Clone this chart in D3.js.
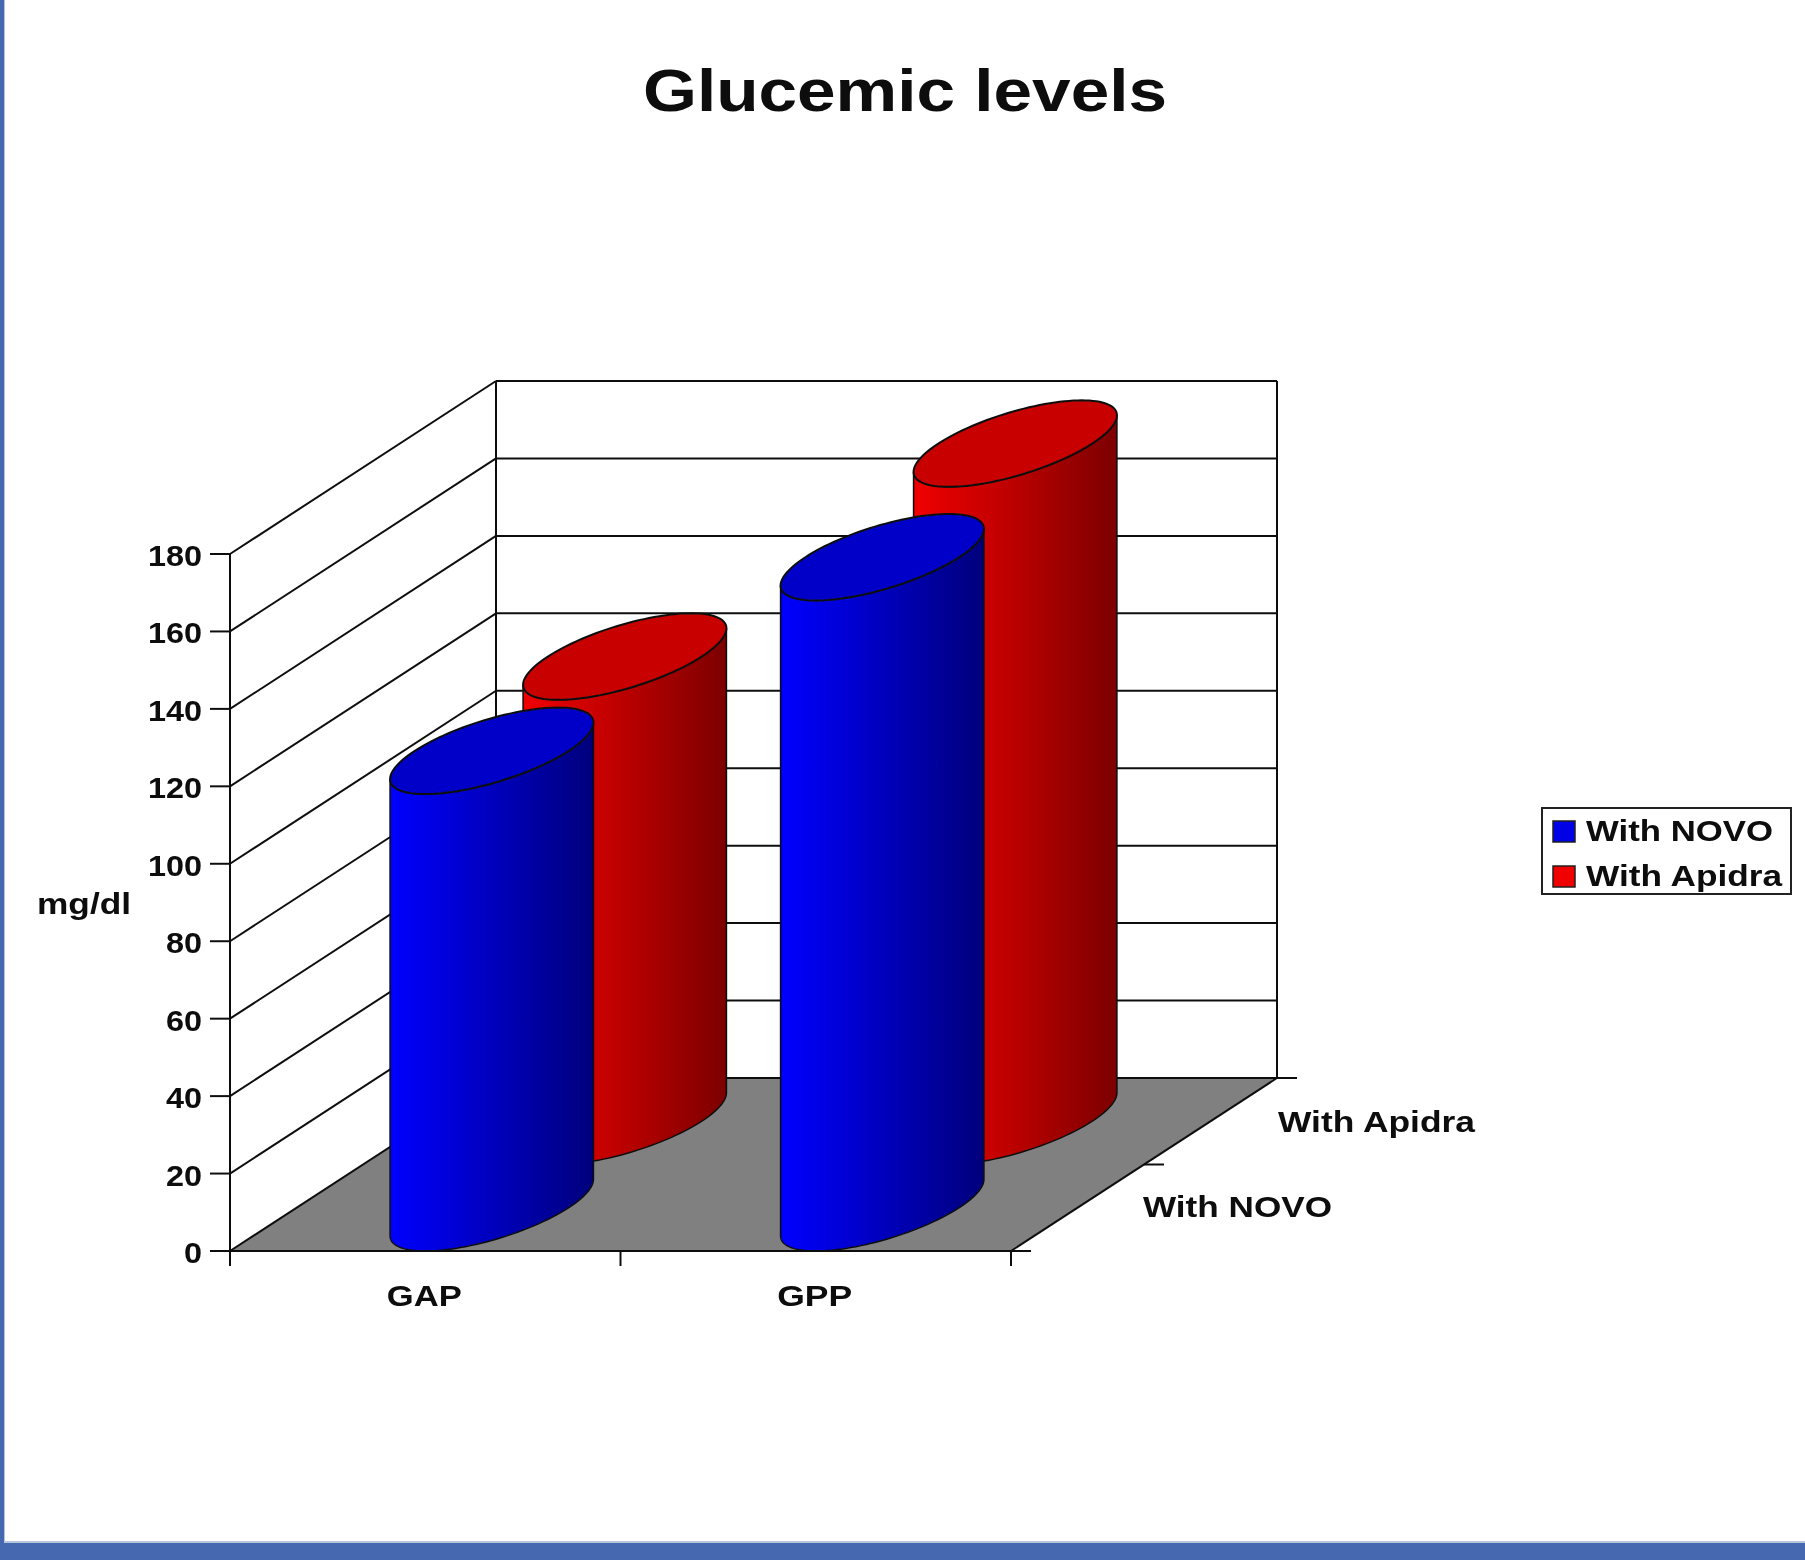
<!DOCTYPE html>
<html>
<head>
<meta charset="utf-8">
<script src="https://cdn.jsdelivr.net/npm/d3@7"></script>
<style>
    html, body { margin: 0; padding: 0; background: #fff; }
    svg { display: block; }
    text { font-family: "Liberation Sans", Arial, sans-serif; font-weight: bold; fill: #0a0a0a; }
</style>
</head>
<body>
<svg id="chart"></svg>
<script>
const categories = ['GAP', 'GPP'];
const seriesNames = ['With NOVO', 'With Apidra'];
const novoValues = [118, 168];
const apidraValues = [120, 175];
const yTicks = [0, 20, 40, 60, 80, 100, 120, 140, 160, 180];

const config = {
    width: 1805,
    height: 1560,
    frontLeft: 230,
    frontRight: 1011,
    floorFront: 1251,
    topFront: 554,
    depthX: 266,
    depthY: -173,
    // radius of a cylinder, as a share of the category and depth bands
    radiusX: 0.394,
    radiusZ: 1,
    frame: '#4568b0',
    labelSize: 30
};

const svg = d3.select('#chart')
    .attr('width', config.width)
    .attr('height', config.height);

const x = d3.scaleBand().domain(categories).range([config.frontLeft, config.frontRight]);
const z = d3.scaleBand().domain(seriesNames).range([0, 1]);
const y = d3.scaleLinear().domain([0, 180]).range([config.floorFront, config.topFront]);

// Oblique projection: px is a front-plane x, depth runs 0 (front) to 1 (back)
const project = (px, depth, value) => [
    px + depth * config.depthX,
    y(value) + depth * config.depthY
];

const lineGen = d3.line();

const defs = svg.append('defs');

// The reference is a soft, low-resolution screenshot
defs.append('filter')
    .attr('id', 'soft')
    .attr('x', 0).attr('y', 0).attr('width', 1).attr('height', 1)
    .append('feGaussianBlur')
    .attr('stdDeviation', 0.5);

// Fake-3D gradients for the cylinder sides
const addGradient = (id, from, mid, to) => {
    const g = defs.append('linearGradient').attr('id', id);
    g.append('stop').attr('offset', '0%').attr('stop-color', from);
    g.append('stop').attr('offset', '45%').attr('stop-color', mid);
    g.append('stop').attr('offset', '100%').attr('stop-color', to);
};
addGradient('side-0', '#0000ff', '#0000c4', '#00007c');
addGradient('side-1', '#f00000', '#c00000', '#7c0000');

const page = svg.append('g').attr('filter', 'url(#soft)');

page.append('rect').attr('width', config.width).attr('height', config.height).attr('fill', '#fff');

// Slide frame
page.append('rect').attr('x', 4).attr('y', 0).attr('width', 1).attr('height', 1543).attr('fill', '#b8c6dc');
page.append('rect').attr('x', 0).attr('y', 1541).attr('width', config.width).attr('height', 2).attr('fill', '#b8c6dc');
page.append('rect').attr('x', 0).attr('y', 0).attr('width', 4).attr('height', config.height).attr('fill', config.frame);
page.append('rect').attr('x', 0).attr('y', 1543).attr('width', config.width).attr('height', 17).attr('fill', config.frame);

const chart = page.append('g');

// Floor
chart.append('path')
    .attr('d', lineGen([
        project(config.frontLeft, 0, 0),
        project(config.frontRight, 0, 0),
        project(config.frontRight, 1, 0),
        project(config.frontLeft, 1, 0)
    ]) + 'Z')
    .attr('fill', '#808080');

// Walls
const rule = (p0, p1) => chart.append('line')
    .attr('x1', p0[0]).attr('y1', p0[1])
    .attr('x2', p1[0]).attr('y2', p1[1])
    .attr('stroke', '#111')
    .attr('stroke-width', 2);

yTicks.forEach(t => {
    rule(project(config.frontLeft, 0, t), project(config.frontLeft, 1, t));
    rule(project(config.frontLeft, 1, t), project(config.frontRight, 1, t));
    rule([config.frontLeft - 20, y(t)], [config.frontLeft, y(t)]);
});
rule(project(config.frontLeft, 0, 0), project(config.frontLeft, 0, 180));
rule(project(config.frontLeft, 1, 0), project(config.frontLeft, 1, 180));
rule(project(config.frontRight, 1, 0), project(config.frontRight, 1, 180));
rule(project(config.frontLeft, 0, 0), project(config.frontRight, 0, 0));
rule(project(config.frontRight, 0, 0), project(config.frontRight, 1, 0));

// Axis ticks
[config.frontLeft, x('GPP'), config.frontRight].forEach(px => {
    rule([px, config.floorFront], [px, config.floorFront + 15]);
});
z.domain().concat(['']).forEach((d, i) => {
    const p = project(config.frontRight, i * z.bandwidth(), 0);
    rule(p, [p[0] + 20, p[1]]);
});

// Cylinders, back row first so the front row covers it
const series = [
    { name: seriesNames[1], values: apidraValues, index: 1 },
    { name: seriesNames[0], values: novoValues, index: 0 }
];

const ringPoint = (cat, name, value, t) => {
    const cx = x(cat) + x.bandwidth() / 2;
    const cz = z(name) + z.bandwidth() / 2;
    const rx = x.bandwidth() / 2 * config.radiusX;
    const rz = z.bandwidth() / 2 * config.radiusZ;
    return project(cx + rx * Math.cos(t), cz + rz * Math.sin(t), value);
};

series.forEach(s => {
    categories.forEach((cat, i) => {
        const value = s.values[i];
        const rx = x.bandwidth() / 2 * config.radiusX;
        const rz = z.bandwidth() / 2 * config.radiusZ;
        // angle of the right-hand silhouette of the projected ellipse
        const tangent = Math.atan2(rz * config.depthX, rx);
        const frontArc = d3.range(0, 61).map(k => tangent - k / 60 * Math.PI);

        const side = frontArc.map(t => ringPoint(cat, s.name, 0, t))
            .concat(frontArc.slice().reverse().map(t => ringPoint(cat, s.name, value, t)));

        chart.append('path')
            .attr('d', lineGen(side) + 'Z')
            .attr('fill', `url(#side-${s.index})`)
            .attr('stroke', '#111')
            .attr('stroke-width', 1.5);

        const top = d3.range(0, 120).map(k => ringPoint(cat, s.name, value, k / 120 * 2 * Math.PI));
        chart.append('path')
            .attr('d', lineGen(top) + 'Z')
            .attr('fill', s.index === 0 ? '#0000c8' : '#c80000')
            .attr('stroke', '#111')
            .attr('stroke-width', 2);
    });
});

// The front axis line sits on top of the cylinder bases
rule(project(config.frontLeft, 0, 0), project(config.frontRight, 0, 0));

// Labels. The reference is stretched sideways, so the widths are set explicitly.
const label = (str, px, py, width, size, anchor) => page.append('text')
    .attr('x', px)
    .attr('y', py)
    .attr('font-size', size || config.labelSize)
    .attr('text-anchor', anchor || 'start')
    .attr('textLength', width)
    .attr('lengthAdjust', 'spacingAndGlyphs')
    .text(str);

label('Glucemic levels', 905, 111, 524, 60, 'middle');
label('mg/dl', 84, 914, 94, config.labelSize, 'middle');

yTicks.forEach(t => {
    const str = String(t);
    label(str, 202, y(t) + 12, str.length * 18, config.labelSize, 'end');
});

categories.forEach(cat => {
    label(cat, x(cat) + x.bandwidth() / 2 - 1, 1306, 75, config.labelSize, 'middle');
});

label(seriesNames[1], 1278, 1132, 197);
label(seriesNames[0], 1143, 1217, 189);

// Legend
const legend = page.append('g');
legend.append('rect')
    .attr('x', 1542).attr('y', 808)
    .attr('width', 249).attr('height', 86)
    .attr('fill', '#fff')
    .attr('stroke', '#222')
    .attr('stroke-width', 2);

seriesNames.forEach((name, i) => {
    legend.append('rect')
        .attr('x', 1553).attr('y', 821 + i * 45)
        .attr('width', 22).attr('height', 21)
        .attr('fill', i === 0 ? '#0000e6' : '#f00000')
        .attr('stroke', '#222')
        .attr('stroke-width', 1.5);
    label(name, 1586, 841 + i * 45, i === 0 ? 187 : 196);
});
</script>
</body>
</html>
